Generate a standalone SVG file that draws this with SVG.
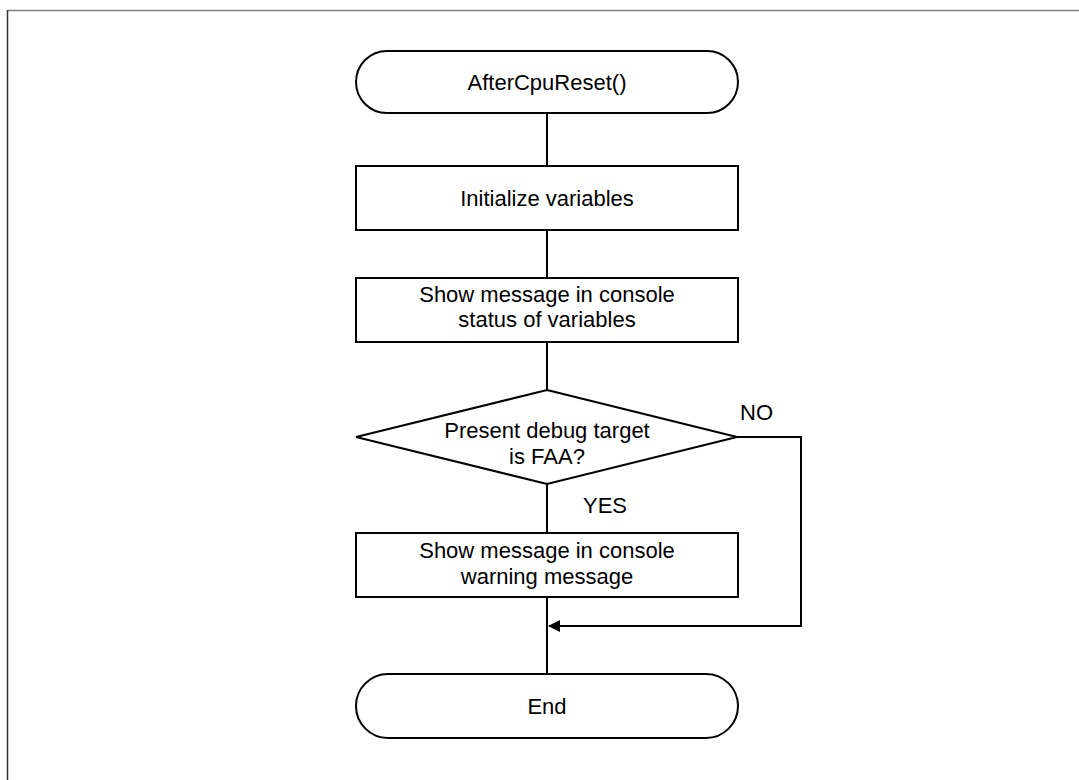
<svg xmlns="http://www.w3.org/2000/svg" width="1079" height="780" viewBox="0 0 1079 780">
<style>
.s{fill:#fff;stroke:#000;stroke-width:2}
.t{font-family:"Liberation Sans",Arial,sans-serif;font-size:22px;fill:#000;text-anchor:middle}
.l{font-family:"Liberation Sans",Arial,sans-serif;font-size:22px;fill:#000}
.c{fill:none;stroke:#000;stroke-width:2}
</style>
<defs>
<marker id="ah" markerWidth="12" markerHeight="12" refX="11" refY="6" orient="auto" markerUnits="userSpaceOnUse">
<path d="M0,0 L12,6 L0,12 Z" fill="#000"/>
</marker>
</defs>
<rect width="1079" height="780" fill="#fff"/>
<line x1="7" y1="10.5" x2="1079" y2="10.5" stroke="#808080" stroke-width="1.5"/>
<line x1="7.5" y1="10" x2="7.5" y2="780" stroke="#333" stroke-width="1.5"/>
<g id="connectors">
<line class="c" x1="547" y1="113" x2="547" y2="166"/>
<line class="c" x1="547" y1="230" x2="547" y2="278"/>
<line class="c" x1="547" y1="342" x2="547" y2="390"/>
<line class="c" x1="547" y1="484" x2="547" y2="533"/>
<line class="c" x1="547" y1="597" x2="547" y2="674"/>
<polyline class="c" points="737,437 801,437 801,626 549,626" marker-end="url(#ah)"/>
<text class="l" x="740" y="420">NO</text>
<text class="l" x="583" y="513">YES</text>
</g>
<g id="start">
<rect class="s" x="356" y="51" width="382" height="62" rx="31"/>
<text class="t" x="547" y="90">AfterCpuReset()</text>
</g>
<g id="init">
<rect class="s" x="356" y="166" width="382" height="64"/>
<text class="t" x="547" y="206">Initialize variables</text>
</g>
<g id="status">
<rect class="s" x="356" y="278" width="382" height="64"/>
<text class="t" x="547" y="302">Show message in console</text>
<text class="t" x="547" y="327">status of variables</text>
</g>
<g id="decision">
<polygon class="s" points="547,390 737,437 547,484 356,437"/>
<text class="t" x="547" y="438">Present debug target</text>
<text class="t" x="547" y="464">is FAA?</text>
</g>
<g id="warning">
<rect class="s" x="356" y="533" width="382" height="64"/>
<text class="t" x="547" y="558">Show message in console</text>
<text class="t" x="547" y="584">warning message</text>
</g>
<g id="end">
<rect class="s" x="356" y="674" width="382" height="64" rx="32"/>
<text class="t" x="547" y="714">End</text>
</g>
</svg>
